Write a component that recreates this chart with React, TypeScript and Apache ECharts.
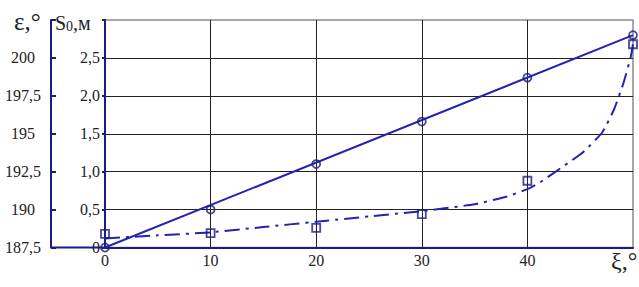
import React, { useEffect, useRef } from "react";
import * as echarts from "echarts";

// ξ, degrees (measurement points)
const xPoints = [0, 10, 20, 30, 40, 50];
// ε, degrees: measured points and straight-line fit ends (at ξ = 0 and ξ = 50)
const epsPoints = [187.5, 190.0, 193.0, 195.8, 198.7, 201.5];
const epsFitX = [0, 50];
const epsFitY = [187.5, 201.5];
const s0Points = [0.18, 0.19, 0.26, 0.44, 0.88, 2.68];
const s0CurveX = [0, 5, 10, 15, 20, 25, 30, 35, 38, 40, 41.2, 43.4, 45.3, 47.1, 48.2, 49.1, 49.8, 50];
const s0CurveY = [0.12, 0.16, 0.2, 0.27, 0.34, 0.41, 0.48, 0.57, 0.67, 0.77, 0.86, 1.07, 1.26, 1.52, 1.82, 2.17, 2.52, 2.68];

const NAVY = "#1c1c86";
const BLUE = "#2323b0";
const FONT = "Liberation Serif";

const comma = (v: number) => v.toFixed(1).replace(".", ",");

export default function App() {
  const ref = useRef<HTMLDivElement>(null);
  useEffect(() => {
    if (!ref.current) return;
    const chart = echarts.init(ref.current, undefined, { renderer: "svg" });
    const label = { fontFamily: FONT, fontSize: 16, color: "#222" };
    chart.setOption({
      animation: false,
      backgroundColor: "#ffffff",
      textStyle: { fontFamily: FONT },
      grid: {
        left: 105,
        right: 6,
        top: 20,
        bottom: 39.5,
        show: true,
        borderColor: "#8a8a8a",
        borderWidth: 1.5,
      },
      xAxis: {
        type: "value",
        min: 0,
        max: 50,
        interval: 10,
        axisLine: { show: true, lineStyle: { color: NAVY, width: 2 } },
        axisTick: { show: false },
        axisLabel: {
          ...label,
          margin: 5,
          formatter: (v: number) => (v === 50 ? "" : String(v)),
        },
        splitLine: { show: true, showMaxLine: false, lineStyle: { color: "#222", width: 1 } },
      },
      yAxis: [
        {
          type: "value",
          position: "left",
          min: 0,
          max: 3,
          interval: 0.5,
          axisLine: { show: true, onZero: false, lineStyle: { color: NAVY, width: 2 } },
          axisTick: { show: true, length: 3, lineStyle: { color: NAVY, width: 2 } },
          axisLabel: {
            ...label,
            margin: 5,
            formatter: (v: number) => (v === 3 ? "" : v === 0 ? "0" : comma(v)),
          },
          splitLine: { show: true, showMaxLine: false, lineStyle: { color: "#222", width: 1 } },
        },
        {
          type: "value",
          position: "left",
          offset: 54,
          min: 187.5,
          max: 202.5,
          interval: 2.5,
          axisLine: { show: true, onZero: false, lineStyle: { color: NAVY, width: 2 } },
          axisTick: { show: true, inside: true, length: 5, lineStyle: { color: NAVY, width: 2 } },
          axisLabel: {
            ...label,
            align: "center",
            margin: 28,
            formatter: (v: number) =>
              v === 202.5 ? "" : Number.isInteger(v) ? String(v) : comma(v),
          },
          splitLine: { show: false },
        },
      ],
      graphic: [
        {
          type: "line",
          shape: { x1: 51, y1: 247.5, x2: 105, y2: 247.5 },
          style: { stroke: NAVY, lineWidth: 2 },
          z: 10,
        },
        {
          type: "text",
          x: 14,
          y: 9,
          style: { text: "ε,°", font: `25px ${FONT}`, fill: "#222" },
        },
        {
          type: "text",
          x: 55,
          y: 13,
          style: {
            text: "{a|S}{b|0}{a|,м}",
            rich: {
              a: { fontFamily: FONT, fontSize: 20, fill: "#222" },
              b: { fontFamily: FONT, fontSize: 14, fill: "#222", padding: [6, 0, 0, 0] },
            },
          },
        },
        {
          type: "text",
          x: 611,
          y: 249,
          style: { text: "ξ,°", font: `24px ${FONT}`, fill: "#222" },
        },
      ],
      series: [
        {
          type: "line",
          yAxisIndex: 1,
          data: epsFitX.map((x, i) => [x, epsFitY[i]]),
          symbol: "none",
          lineStyle: { color: BLUE, width: 2 },
          z: 3,
        },
        {
          type: "scatter",
          yAxisIndex: 1,
          data: xPoints.map((x, i) => [x, epsPoints[i]]),
          symbol: "circle",
          symbolSize: 8,
          itemStyle: { color: "rgba(255,255,255,0)", borderColor: NAVY, borderWidth: 1.8 },
          z: 4,
        },
        {
          type: "line",
          yAxisIndex: 0,
          data: s0CurveX.map((x, i) => [x, s0CurveY[i]]),
          smooth: 0.15,
          symbol: "none",
          lineStyle: { color: BLUE, width: 2, type: [15, 6, 3, 6] },
          z: 3,
        },
        {
          type: "scatter",
          yAxisIndex: 0,
          data: xPoints.map((x, i) => [x, s0Points[i]]),
          symbol: "rect",
          symbolSize: 8,
          itemStyle: { color: "rgba(255,255,255,0)", borderColor: NAVY, borderWidth: 1.8 },
          z: 4,
        },
      ],
    });
    return () => chart.dispose();
  }, []);
  return <div ref={ref} style={{ width: 639, height: 287, position: "absolute", left: 0, top: 0 }} />;
}
